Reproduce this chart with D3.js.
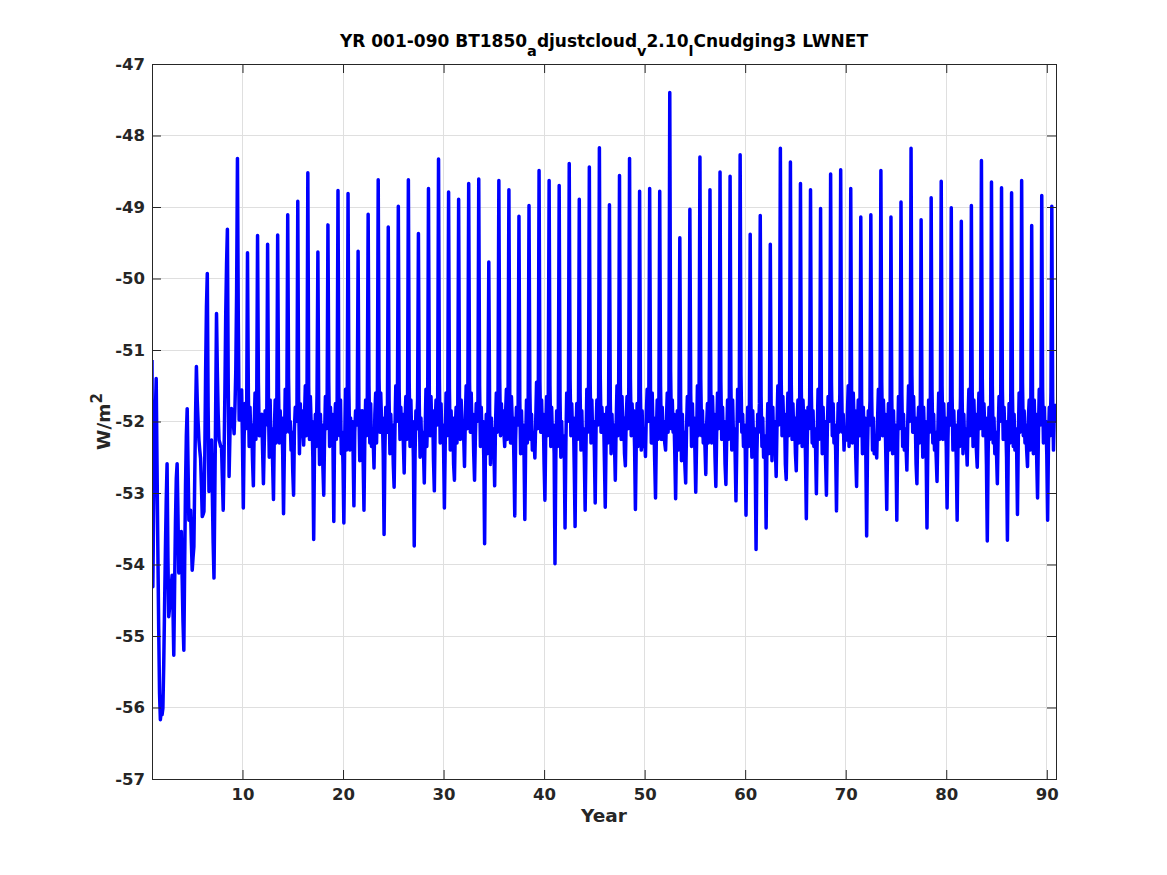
<!DOCTYPE html>
<html>
<head>
<meta charset="utf-8">
<script src="https://cdn.jsdelivr.net/npm/d3@7"></script>
<style>
  html, body { margin: 0; padding: 0; background: #fff; }
  svg { display: block; }
  .tick text { font-family: "DejaVu Sans", sans-serif; font-weight: bold; font-size: 16.5px; fill: #262626; }
</style>
</head>
<body>
<svg id="chart" width="1167" height="875"></svg>
<script>
// monthly LWNET (W/m2), one array per calendar month, years 001-090
const jan = [
  -51.14, -56.10, -54.15, -54.20, -54.08, -53.33, -53.00, -52.80, -51.90, -52.30,
  -52.55, -52.40, -52.60, -52.45, -52.70, -52.10, -52.50, -52.65, -52.35, -52.60,
  -52.40, -52.55, -52.25, -52.45, -52.60, -52.30, -52.50, -52.40, -52.55, -52.35,
  -52.60, -52.20, -52.45, -52.50, -52.35, -52.15, -52.55, -52.40, -52.25, -52.60,
  -52.45, -52.35, -52.65, -52.50, -52.40, -52.55, -52.30, -52.45, -52.35, -52.20,
  -52.55, -52.30, -52.45, -52.60, -52.40, -52.35, -52.50, -52.60, -52.45, -52.30,
  -52.55, -52.40, -52.35, -52.60, -52.45, -52.50, -52.35, -52.55, -52.40, -52.20,
  -52.50, -52.45, -52.30, -52.55, -52.40, -52.35, -52.60, -52.45, -52.50, -52.35,
  -52.55, -52.30, -52.40, -52.60, -52.45, -52.50, -52.35, -52.40, -52.55, -52.45
];
const feb = [
  -54.31, -56.01, -54.60, -54.80, -53.90, -53.30, -53.70, -53.24, -52.00, -53.21,
  -52.90, -52.87, -53.09, -53.29, -53.03, -52.33, -53.65, -53.03, -53.40, -53.42,
  -53.18, -53.24, -52.65, -53.58, -52.92, -52.72, -53.74, -52.86, -52.97, -53.21,
  -52.82, -52.63, -52.82, -53.71, -52.90, -52.35, -53.32, -53.37, -52.51, -53.10,
  -53.99, -53.49, -53.47, -53.24, -53.14, -53.20, -52.82, -52.62, -53.23, -52.49,
  -53.07, -52.40, -53.08, -52.86, -52.99, -52.74, -52.91, -52.88, -53.11, -53.31,
  -53.79, -53.49, -52.77, -52.81, -52.69, -53.36, -53.01, -53.03, -53.25, -52.26,
  -52.91, -53.60, -52.51, -53.23, -53.38, -52.68, -52.87, -53.49, -52.84, -53.21,
  -53.38, -52.61, -52.64, -53.67, -52.87, -53.66, -53.30, -52.63, -53.07, -53.38
];
const mar = [
  -53.20, -55.40, -55.27, -55.20, -53.75, -53.26, -54.19, -52.50, -52.17, -52.20,
  -52.05, -52.30, -52.15, -52.40, -52.10, -51.95, -52.35, -52.20, -52.05, -52.30,
  -52.15, -52.25, -51.90, -52.40, -52.10, -52.00, -52.45, -52.15, -52.05, -52.30,
  -52.10, -51.95, -52.20, -52.35, -52.05, -51.90, -52.25, -52.30, -52.00, -52.15,
  -52.50, -52.30, -52.20, -52.35, -52.10, -52.25, -52.05, -51.95, -52.30, -51.90,
  -52.20, -52.00, -52.25, -52.10, -52.30, -52.05, -52.15, -52.20, -52.35, -52.25,
  -52.45, -52.30, -52.05, -52.10, -52.00, -52.35, -52.20, -52.15, -52.30, -51.90,
  -52.15, -52.40, -52.00, -52.25, -52.30, -52.05, -52.10, -52.35, -52.15, -52.25,
  -52.30, -52.00, -52.05, -52.45, -52.15, -52.40, -52.25, -51.95, -52.20, -52.30
];
const apr = [
  -52.40, -54.60, -54.30, -54.00, -52.80, -52.50, -53.00, -51.60, -51.80, -51.75,
  -51.60, -51.85, -51.70, -51.55, -51.80, -51.50, -51.90, -51.65, -51.75, -51.55,
  -51.85, -51.70, -51.60, -51.80, -51.50, -51.65, -51.85, -51.55, -51.70, -51.60,
  -51.80, -51.50, -51.75, -51.90, -51.60, -51.55, -51.80, -51.70, -51.45, -51.65,
  -51.85, -51.60, -51.75, -51.55, -51.70, -51.80, -51.50, -51.65, -51.75, -51.55,
  -51.70, -51.60, -51.85, -51.65, -51.50, -51.75, -51.60, -51.70, -51.55, -51.80,
  -51.90, -51.75, -51.50, -51.60, -51.70, -51.80, -51.55, -51.65, -51.75, -51.50,
  -51.70, -51.85, -51.55, -51.75, -51.65, -51.50, -51.80, -51.70, -51.60, -51.75,
  -51.85, -51.55, -51.60, -51.80, -51.65, -51.75, -51.60, -51.70, -51.55, -51.80
];
const may = [
  -51.90, -53.80, -53.40, -52.90, -51.90, -51.30, -51.80, -50.50, -51.30, -52.10,
  -52.25, -52.05, -52.30, -52.15, -52.00, -52.20, -52.35, -52.10, -52.25, -52.40,
  -52.05, -52.20, -52.30, -52.15, -52.00, -52.25, -52.10, -52.35, -52.05, -52.20,
  -52.30, -52.10, -52.00, -52.45, -52.15, -52.25, -52.05, -52.30, -52.10, -52.20,
  -52.35, -52.00, -52.25, -52.15, -52.05, -52.30, -52.20, -52.10, -52.35, -52.00,
  -52.25, -52.15, -52.40, -52.05, -52.20, -52.30, -52.10, -52.25, -52.00, -52.35,
  -52.15, -52.45, -52.05, -52.20, -52.30, -52.10, -52.25, -52.00, -52.15, -52.35,
  -52.20, -52.05, -52.25, -52.40, -52.10, -52.00, -52.30, -52.15, -52.25, -52.05,
  -52.35, -52.20, -52.10, -52.25, -52.00, -52.30, -52.15, -52.40, -52.05, -52.20
];
const jun = [
  -51.40, -53.10, -52.80, -52.20, -51.23, -50.40, -50.49, -49.80, -50.20, -51.85,
  -51.70, -51.95, -51.80, -51.65, -51.90, -51.75, -51.60, -51.85, -51.70, -51.95,
  -51.80, -51.65, -51.75, -51.90, -51.60, -51.80, -51.70, -51.95, -51.65, -51.85,
  -51.75, -51.60, -51.90, -51.80, -51.70, -51.65, -51.85, -51.75, -51.95, -51.60,
  -51.80, -51.70, -51.90, -51.65, -51.85, -51.75, -51.60, -51.80, -51.95, -51.70,
  -51.85, -51.65, -51.75, -51.90, -51.60, -51.80, -51.70, -51.85, -51.65, -51.95,
  -51.75, -51.80, -51.60, -51.70, -51.90, -51.65, -51.85, -51.75, -51.60, -51.80,
  -51.95, -51.70, -51.65, -51.85, -51.75, -51.60, -51.90, -51.80, -51.70, -51.85,
  -51.65, -51.75, -51.60, -51.90, -51.80, -51.70, -51.85, -51.65, -51.75, -51.60
];
const jul = [
  -52.60, -52.59, -52.59, -51.82, -51.70, -49.93, -51.30, -49.31, -48.32, -49.64,
  -49.40, -49.52, -49.39, -49.11, -48.92, -48.52, -49.63, -49.25, -48.77, -48.81,
  -49.62, -49.10, -48.62, -49.28, -48.99, -48.62, -49.37, -48.74, -48.33, -48.79,
  -48.89, -48.67, -48.61, -49.77, -48.63, -48.76, -49.13, -48.98, -48.49, -48.63,
  -48.70, -48.39, -48.89, -48.44, -48.17, -48.97, -48.56, -48.32, -48.78, -48.74,
  -48.78, -47.40, -49.43, -49.03, -48.30, -48.76, -48.51, -48.57, -48.27, -49.38,
  -49.12, -49.52, -48.18, -48.37, -48.67, -48.76, -49.02, -48.54, -48.48, -48.74,
  -49.14, -49.11, -48.49, -49.14, -48.93, -48.18, -49.18, -48.87, -48.64, -49.01,
  -49.20, -48.98, -48.35, -48.65, -48.73, -48.80, -48.63, -49.26, -48.84, -48.99
];
const aug = [
  -53.80, -53.90, -53.30, -52.60, -52.00, -51.80, -51.90, -51.50, -50.60, -51.60,
  -51.45, -51.75, -51.55, -51.40, -51.65, -51.50, -51.80, -51.45, -51.60, -51.55,
  -51.85, -51.50, -51.40, -51.70, -51.55, -51.45, -51.75, -51.60, -51.40, -51.55,
  -51.65, -51.45, -51.50, -51.85, -51.40, -51.60, -51.70, -51.55, -51.45, -51.50,
  -51.65, -51.40, -51.60, -51.45, -51.35, -51.70, -51.50, -51.40, -51.60, -51.55,
  -51.50, -51.30, -51.75, -51.60, -51.40, -51.55, -51.45, -51.50, -51.35, -51.75,
  -51.65, -51.80, -51.40, -51.45, -51.55, -51.60, -51.70, -51.45, -51.40, -51.55,
  -51.70, -51.65, -51.45, -51.70, -51.60, -51.35, -51.75, -51.55, -51.50, -51.65,
  -51.70, -51.60, -51.40, -51.50, -51.55, -51.60, -51.45, -51.70, -51.55, -51.65
];
const sep = [
  -54.90, -54.73, -54.12, -53.38, -52.26, -52.98, -52.26, -52.77, -51.98, -52.35,
  -52.20, -52.50, -52.30, -52.15, -52.45, -52.25, -52.60, -52.35, -52.20, -52.40,
  -52.55, -52.30, -52.15, -52.45, -52.25, -52.35, -52.50, -52.20, -52.30, -52.40,
  -52.25, -52.15, -52.35, -52.60, -52.20, -52.30, -52.45, -52.25, -52.15, -52.35,
  -52.50, -52.20, -52.40, -52.30, -52.15, -52.45, -52.25, -52.20, -52.40, -52.30,
  -52.25, -52.10, -52.55, -52.35, -52.20, -52.30, -52.25, -52.40, -52.15, -52.50,
  -52.35, -52.55, -52.20, -52.25, -52.35, -52.30, -52.45, -52.20, -52.15, -52.30,
  -52.45, -52.40, -52.20, -52.45, -52.35, -52.15, -52.50, -52.30, -52.25, -52.40,
  -52.45, -52.35, -52.20, -52.30, -52.25, -52.35, -52.20, -52.45, -52.30, -52.40
];
const oct = [
  -55.80, -54.60, -53.90, -53.30, -52.40, -52.60, -52.30, -52.20, -51.70, -51.80,
  -51.95, -51.70, -51.85, -52.00, -51.75, -51.65, -51.90, -51.80, -51.70, -51.95,
  -51.85, -51.75, -51.60, -51.90, -51.80, -51.70, -51.95, -51.65, -51.75, -51.85,
  -51.70, -51.60, -51.80, -51.95, -51.75, -51.65, -51.85, -51.90, -51.70, -51.80,
  -52.00, -51.75, -51.85, -51.70, -51.80, -51.90, -51.65, -51.75, -51.85, -51.60,
  -51.80, -51.70, -51.90, -51.75, -51.85, -51.65, -51.80, -51.70, -51.90, -51.85,
  -51.95, -51.80, -51.65, -51.75, -51.70, -51.85, -51.80, -51.75, -51.90, -51.60,
  -51.80, -51.95, -51.70, -51.85, -51.90, -51.65, -51.80, -51.90, -51.75, -51.85,
  -51.90, -51.70, -51.75, -51.95, -51.80, -51.90, -51.85, -51.70, -51.80, -51.85
];
const nov = [
  -56.17, -54.40, -53.70, -53.24, -52.52, -52.40, -52.35, -51.85, -51.60, -52.25,
  -52.10, -52.35, -52.20, -52.40, -52.15, -52.05, -52.30, -52.20, -52.45, -52.25,
  -52.10, -52.35, -52.00, -52.30, -52.15, -52.25, -52.40, -52.10, -52.20, -52.30,
  -52.05, -52.15, -52.25, -52.35, -52.10, -52.00, -52.30, -52.40, -52.15, -52.25,
  -52.45, -52.20, -52.35, -52.25, -52.10, -52.30, -52.15, -52.05, -52.35, -52.10,
  -52.25, -52.15, -52.40, -52.20, -52.30, -52.10, -52.25, -52.20, -52.35, -52.30,
  -52.50, -52.35, -52.10, -52.20, -52.05, -52.35, -52.25, -52.30, -52.40, -52.00,
  -52.20, -52.45, -52.10, -52.35, -52.40, -52.15, -52.25, -52.40, -52.20, -52.30,
  -52.35, -52.15, -52.10, -52.45, -52.20, -52.40, -52.30, -52.15, -52.25, -52.00
];
const dec = [
  -56.05, -54.30, -53.54, -53.70, -52.90, -52.26, -52.35, -51.82, -51.56, -52.05,
  -51.90, -52.10, -51.95, -52.15, -51.85, -52.00, -52.05, -51.90, -52.15, -52.00,
  -51.85, -52.10, -51.95, -52.05, -51.90, -52.00, -52.15, -51.85, -52.05, -51.95,
  -52.10, -51.90, -52.00, -52.10, -51.85, -51.95, -52.05, -52.15, -51.90, -52.05,
  -52.20, -51.95, -52.10, -52.00, -51.90, -52.05, -51.95, -51.85, -52.10, -51.95,
  -52.00, -51.90, -52.15, -51.95, -52.05, -51.90, -52.00, -52.10, -52.05, -52.10,
  -52.20, -52.00, -51.90, -51.95, -51.85, -52.10, -52.00, -52.05, -52.15, -51.85,
  -51.95, -52.20, -51.90, -52.05, -52.10, -51.95, -52.00, -52.15, -51.95, -52.05,
  -52.10, -51.90, -51.95, -52.15, -52.00, -52.10, -52.05, -51.90, -52.00, -51.75
];

const xTicks = [10, 20, 30, 40, 50, 60, 70, 80, 90];
const yTicks = [-57, -56, -55, -54, -53, -52, -51, -50, -49, -48, -47];
const nYears = 90;

// flatten into a time series, t = year + (month-1)/12
const months = [jan, feb, mar, apr, may, jun, jul, aug, sep, oct, nov, dec];
let series = []
d3.range(nYears).forEach(function(i) {
  months.forEach(function(arr, m) {
    series.push({t: i + 1 + m / 12, v: arr[i]})
  })
});

const L = 152, R = 1056, T = 64, B = 779;
const x = d3.scaleLinear().domain([1, nYears + 11 / 12]).range([L, R]);
const y = d3.scaleLinear().domain([-57, -47]).range([B, T]);

const svg = d3.select('#chart');
svg.append('rect').attr('width', 1167).attr('height', 875).attr('fill', '#fff');

// grid
let grid = svg.append('g').attr('shape-rendering', 'crispEdges');
grid.selectAll('.vg').data(xTicks).enter().append('line')
  .attr('x1', d => x(d)).attr('x2', d => x(d)).attr('y1', T).attr('y2', B)
  .attr('stroke', '#dfdfdf').attr('stroke-width', 1);
grid.selectAll('.hg').data(yTicks).enter().append('line')
  .attr('x1', L).attr('x2', R).attr('y1', d => y(d)).attr('y2', d => y(d))
  .attr('stroke', '#dfdfdf').attr('stroke-width', 1);

svg.append('clipPath').attr('id', 'clip').append('rect')
  .attr('x', L).attr('y', T).attr('width', R - L).attr('height', B - T);

const line = d3.line().x(d => x(d.t)).y(d => y(d.v));
svg.append('path').datum(series)
  .attr('clip-path', 'url(#clip)')
  .attr('d', line)
  .attr('fill', 'none')
  .attr('stroke', '#0000ff')
  .attr('stroke-width', 3.5)
  .attr('stroke-linejoin', 'round');

// axes, ticks pointing inward like the matlab box
const fmt = d => String(d);
function styleAxis(g) {
  g.select('.domain').remove();
  g.selectAll('.tick line').attr('stroke', '#262626').attr('stroke-width', 1);
}
svg.append('g').attr('transform', 'translate(0,' + B + ')')
  .call(d3.axisBottom(x).tickValues(xTicks).tickFormat(fmt).tickSize(-9).tickPadding(9))
  .call(styleAxis);
svg.append('g').attr('transform', 'translate(0,' + T + ')')
  .call(d3.axisTop(x).tickValues(xTicks).tickFormat('').tickSize(-9))
  .call(styleAxis);
svg.append('g').attr('transform', 'translate(' + L + ',0)')
  .call(d3.axisLeft(y).tickValues(yTicks).tickFormat(fmt).tickSize(-9).tickPadding(7))
  .call(styleAxis);
svg.append('g').attr('transform', 'translate(' + R + ',0)')
  .call(d3.axisRight(y).tickValues(yTicks).tickFormat('').tickSize(-9))
  .call(styleAxis);
svg.selectAll('.tick text').attr('font-family', null).attr('font-size', null);

svg.append('rect')
  .attr('x', L + 0.5).attr('y', T + 0.5).attr('width', R - L).attr('height', B - T)
  .attr('fill', 'none').attr('stroke', '#262626').attr('stroke-width', 1);

// title with tex-style subscripts
let title = svg.append('text')
  .attr('x', (L + R) / 2).attr('y', 47)
  .attr('text-anchor', 'middle')
  .attr('font-family', 'DejaVu Sans, sans-serif')
  .attr('font-weight', 'bold').attr('font-size', 17).attr('fill', '#000');
const titleParts = [
  ['YR 001-090 BT1850', false], ['a', true], ['djustcloud', false], ['v', true],
  ['2.10', false], ['l', true], ['Cnudging3 LWNET', false]
];
let shifted = false;
titleParts.forEach(function(p) {
  let ts = title.append('tspan').text(p[0]);
  if (p[1]) {
    ts.attr('dy', 9).attr('font-size', 14.5);
    shifted = true;
  } else if (shifted) {
    ts.attr('dy', -9);
    shifted = false;
  }
});

svg.append('text')
  .attr('x', (L + R) / 2).attr('y', 822)
  .attr('text-anchor', 'middle')
  .attr('font-family', 'DejaVu Sans, sans-serif')
  .attr('font-weight', 'bold').attr('font-size', 18.5).attr('fill', '#262626')
  .text('Year');

let ylab = svg.append('text')
  .attr('transform', 'translate(110,' + ((T + B) / 2) + ') rotate(-90)')
  .attr('text-anchor', 'middle')
  .attr('font-family', 'DejaVu Sans, sans-serif')
  .attr('font-weight', 'bold').attr('font-size', 18.5).attr('fill', '#262626');
ylab.append('tspan').text('W/m');
ylab.append('tspan').attr('dy', -8).attr('font-size', 15).text('2');
</script>
</body>
</html>
